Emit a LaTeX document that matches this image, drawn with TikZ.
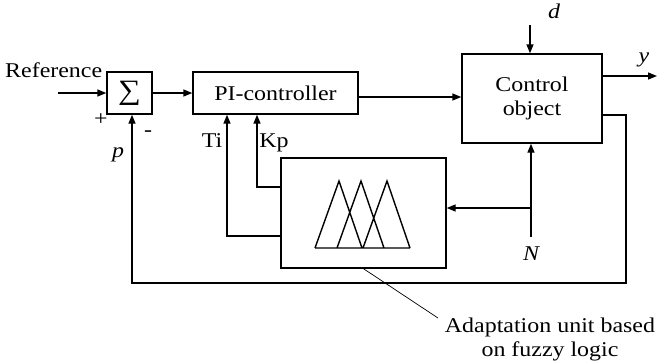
\documentclass[tikz,border=0pt]{standalone}
\usepackage{fontspec}
\setmainfont{Liberation Serif}[FakeStretch=1.14]
\usetikzlibrary{arrows.meta,calc}
\begin{document}
\begin{tikzpicture}[x=1pt,y=-1pt,
  every node/.style={font=\fontsize{21}{24}\selectfont},
  blk/.style={draw,line width=1.4pt,inner sep=0pt},
  conn/.style={line width=1.4pt},
  arr/.style={conn,-{Triangle[length=9pt,width=7pt]}},
  lbl/.style={inner sep=0pt},
  ilbl/.style={inner sep=0pt,font=\fontsize{21}{24}\selectfont\itshape},
  note/.style={line width=0.7pt}]
\useasboundingbox (0,0) rectangle (657,360);

% blocks
\node[blk,minimum width=45pt,minimum height=42pt,font=\fontsize{28}{30}\selectfont] (sum) at (129.5,93) {∑};
\node[blk,minimum width=165pt,minimum height=42pt] (pi) at (275.5,93) {PI-controller};
\node[blk,minimum width=140pt,minimum height=89pt,align=center] (co) at (532,98.5) {Control\\object};
\node[blk,minimum width=165pt,minimum height=110pt] (ad) at (363.5,213) {};

% membership functions
\draw[conn,line join=miter] (315,248) -- (339,181) -- (362,248)
  (337,248) -- (361,181) -- (384,248)
  (363,248) -- (387,181) -- (410,248)
  (315,248) -- (410,248);

% labels
\node[lbl,anchor=base west] (ref) at (5,77) {Reference};
\node[lbl] (plus) at (101,120) {+};
\node[lbl] (minus) at (148,134) {-};
\node[ilbl,anchor=base] (p) at (118,157) {p};
\node[ilbl,anchor=base] (d) at (554,18) {d};
\node[ilbl,anchor=base] (y) at (644,62) {y};
\node[ilbl,anchor=base] (N) at (531,260) {N};
\node[lbl,anchor=base] (ti) at (212,147) {Ti};
\node[lbl,anchor=base] (kp) at (274,147) {Kp};
\node[lbl,align=center,anchor=north] (nt) at (550,318) {Adaptation unit based\\on fuzzy logic};

% coordinates
\coordinate (refin) at (58,93);
\coordinate (pco) at (462,97);
\coordinate (din) at (530,25);
\coordinate (yout) at (657,76);
\coordinate (fb1) at (626,115);
\coordinate (fb2) at (626,283);
\coordinate (fb3) at (132,283);
\coordinate (nbot) at (531,237);
\coordinate (nbr) at (531,208);
\coordinate (kp1) at (257,187);
\coordinate (ti1) at (227,236);
\coordinate (a2) at (438,318);

% connectors
\draw[arr] (refin) -- (sum.west);
\draw[arr] (sum.east) -- (pi.west);
\draw[arr] (pco -| pi.east) -- (pco -| co.west);
\draw[arr] (din) -- (din |- co.north);
\draw[arr] (co.east |- yout) -- (yout);
\draw[arr] (co.east |- fb1) -- (fb1) -- (fb2) -- (fb3) -- (fb3 |- sum.south);
\draw[arr] (nbot) -- (nbot |- co.south);
\draw[arr] (nbr) -- (nbr -| ad.east);
\draw[arr] (ad.west |- kp1) -- (kp1) -- (kp1 |- pi.south);
\draw[arr] (ad.west |- ti1) -- (ti1) -- (ti1 |- pi.south);
\draw[note] (ad.south) -- (a2);
\end{tikzpicture}
\end{document}
